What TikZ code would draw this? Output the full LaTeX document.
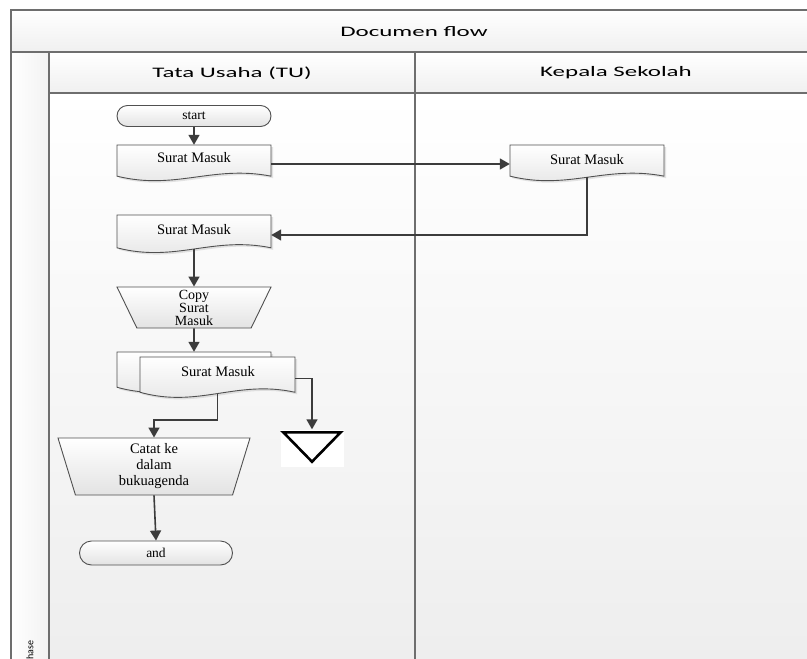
\documentclass[tikz,border=0pt]{standalone}
\usepackage{fontspec}
\setmainfont{Liberation Serif}
\newfontfamily\hdrfont{Carlito}
\usetikzlibrary{arrows.meta,shapes.geometric,shapes.misc,calc}

\definecolor{lineclr}{HTML}{3C3C3C}
\definecolor{frameclr}{HTML}{6E6E6E}
\definecolor{shapeedge}{HTML}{505050}

\tikzset{
  conn/.style={draw=lineclr, line width=1.6pt, -{Triangle[length=10pt,width=11pt]}},
  shapefill/.style={top color=white, bottom color=black!11, draw=shapeedge, line width=0.9pt},
  shadowfill/.style={fill=black!30, opacity=0.35, draw=none},
  term/.style={rounded rectangle, shapefill, inner sep=0pt,
    font=\fontsize{13.5}{14}\selectfont},
  doctext/.style={font=\fontsize{14.5}{15}\selectfont, inner sep=0pt},
  docbody/.style={rectangle, draw=none, inner sep=0pt},
  manop/.style={trapezium, trapezium stretches body=true, shape border rotate=180,
    shapefill, inner sep=0pt, align=center},
  hdr/.style={font=\hdrfont\fontsize{14.5}{16}\selectfont, inner sep=0pt},
  framel/.style={draw=frameclr, line width=1.6pt},
}

% document symbol: name, left x, top y, width, height
\newcommand\docsym[5]{%
  \pgfmathsetmacro\dxr{#2+#4}%
  \pgfmathsetmacro\dyb{#3+0.82*#5}%
  \pgfmathsetmacro\dcxa{#2+0.62*#4}%
  \pgfmathsetmacro\dcya{#3+0.52*#5}%
  \pgfmathsetmacro\dcxb{#2+0.38*#4}%
  \pgfmathsetmacro\dcyb{#3+1.2*#5}%
  \pgfmathsetmacro\dxm{#2+0.5*#4}%
  \pgfmathsetmacro\dym{#3+0.5*#5}%
  \pgfmathsetmacro\dyw{#3+0.85*#5}%
  \begin{scope}[shift={(2,2)}]
    \path[shadowfill] (#2,#3) -- (\dxr,#3) -- (\dxr,\dyb)
      .. controls (\dcxa,\dcya) and (\dcxb,\dcyb) .. (#2,\dyb) -- cycle;
  \end{scope}
  \path[shapefill] (#2,#3) -- (\dxr,#3) -- (\dxr,\dyb)
    .. controls (\dcxa,\dcya) and (\dcxb,\dcyb) .. (#2,\dyb) -- cycle;
  \node[docbody, minimum width=#4pt, minimum height=#5pt] (#1) at (\dxm,\dym) {};
  \coordinate (#1-wave) at (\dxm,\dyw);
}

\begin{document}
\begin{tikzpicture}[x=1pt, y=-1pt]
\useasboundingbox (0,0) rectangle (807,659);
\clip (0,0) rectangle (807,659);
\fill[white] (0,0) rectangle (807,659);

% swimlane frame
\shade[top color=white, bottom color=black!6] (11,10) rectangle (817,52);
\shade[top color=white, bottom color=black!6] (49,52) rectangle (817,93);
\shade[top color=white, bottom color=black!7] (49,93) rectangle (817,680);
\shade[left color=white, right color=black!5] (11,52) rectangle (49,680);
\draw[framel] (11,680) -- (11,10) -- (817,10) -- (817,680);
\draw[framel] (11,52) -- (817,52);
\draw[framel] (49,93) -- (817,93);
\draw[framel] (49,52) -- (49,680);
\draw[framel] (415,52) -- (415,680);

\node[hdr] (title) at (414,32) {\scalebox{1.72}[1]{Documen flow}};
\node[hdr] (laneA) at (232,73) {\scalebox{1.72}[1]{Tata Usaha (TU)}};
\node[hdr] (laneB) at (616,73) {\scalebox{1.72}[1]{Kepala Sekolah}};
\node[hdr, rotate=90, anchor=west, font=\hdrfont\fontsize{10}{12}\selectfont]
  (phase) at (30,665) {Phase};

% terminators
\node[term, minimum width=154pt, minimum height=21pt] (start) at (194,116) {start};
\node[term, minimum width=153pt, minimum height=24pt] (stop) at (156,553) {and};

% documents
\docsym{docA}{117}{145}{154}{38}
\node[doctext] (docAt) at (194,158) {Surat Masuk};
\docsym{docB}{510}{145}{154}{38}
\node[doctext] (docBt) at (587,160) {Surat Masuk};
\docsym{docC}{117}{215}{154}{40}
\node[doctext] (docCt) at (194,230) {Surat Masuk};

% manual operations
\node[manop, minimum width=154pt, minimum height=41pt, trapezium angle=60.7,
  font=\fontsize{14}{13}\selectfont] (copy) at (194,307.5) {Copy\\Surat\\Masuk};

% stacked documents
\docsym{stackB}{117}{352}{154}{43}
\docsym{stackF}{140}{357}{155}{43}
\node[doctext] (stackFt) at (218,372) {Surat Masuk};

\node[manop, minimum width=192pt, minimum height=57pt, trapezium angle=68.9,
  font=\fontsize{14.5}{16}\selectfont] (catat) at (154,466.5) {Catat ke\\dalam\\bukuagenda};

% off-line storage
\node[rectangle, fill=white, draw=none, minimum width=63pt, minimum height=37pt,
  inner sep=0pt] (store) at (312,448) {};
\draw[black, line width=2.6pt, line join=miter]
  ($(store.north west)+(3,3)$) -- ($(store.north east)+(-3,3)$)
  -- ($(store.south)+(0,-5)$) -- cycle;

% connectors
\coordinate (jn) at (217.5,420);
\draw[conn] (start.south) -- (docA.north);
\draw[conn] (docA.east) -- (docB.west);
\draw[conn] (docB-wave) |- (docC.east);
\draw[conn] (docC-wave) -- (copy.north);
\draw[conn] (copy.south) -- (stackB.north);
\draw[conn] (stackF-wave) -- (jn) -| (catat.north);
\draw[conn] (stackF.east) -| (store.north);
\draw[conn] (catat.south) -- (stop.north);
\end{tikzpicture}
\end{document}
